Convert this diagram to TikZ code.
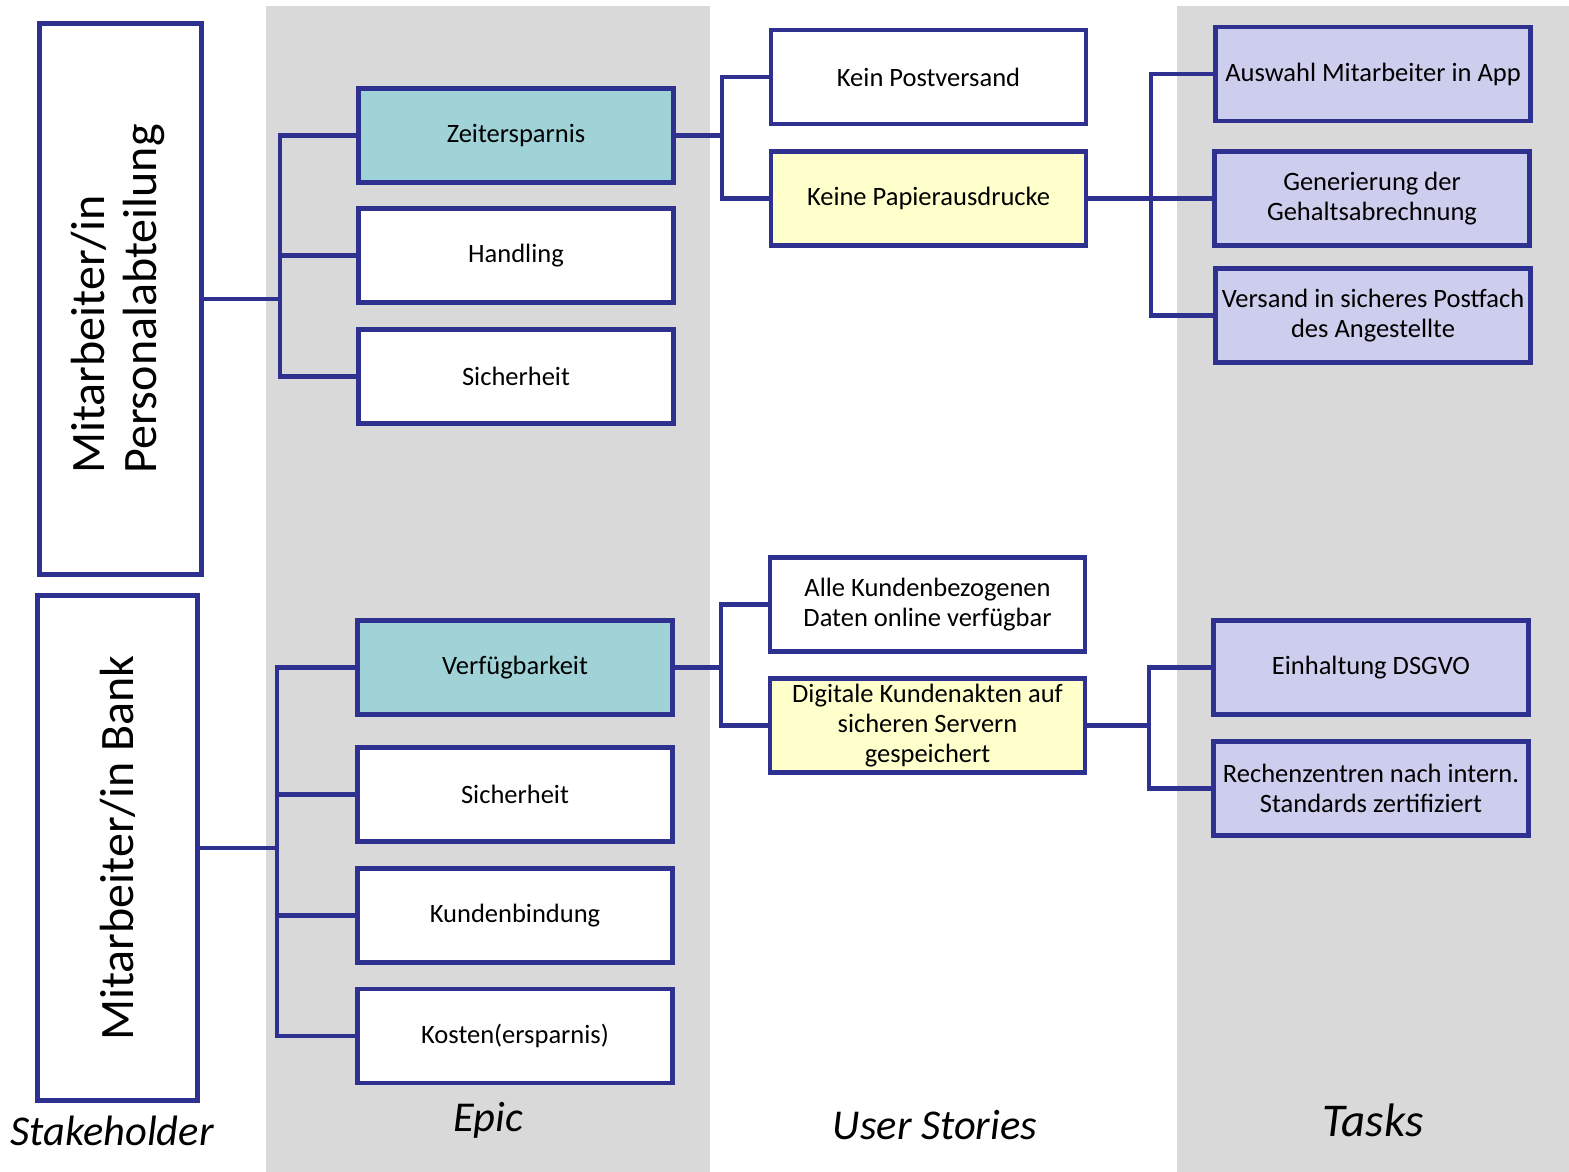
\documentclass[tikz,border=0pt]{standalone}
\usepackage{fontspec}
\setmainfont{Carlito}
\definecolor{lineblue}{HTML}{2F3190}
\definecolor{bandgray}{HTML}{D9D9D9}
\definecolor{tealfill}{HTML}{9FD3D8}
\definecolor{yellowfill}{HTML}{FFFFCC}
\definecolor{lavfill}{HTML}{CDCDEE}
\begin{document}
\begin{tikzpicture}[x=1pt,y=-1pt,
  box/.style={draw=lineblue, line width=4.4pt, fill=white, rectangle, inner sep=0pt,
    minimum width=315pt, minimum height=94pt, align=center,
    font=\fontsize{26.5}{30}\selectfont, text=black},
  epicbox/.style={box},
  storybox/.style={box},
  taskbox/.style={box, fill=lavfill},
  shbox/.style={draw=lineblue, line width=4.4pt, fill=white, rectangle, inner sep=0pt, align=center,
    font=\fontsize{48}{52}\selectfont},
  conn/.style={draw=lineblue, line width=4.4pt},
  colhead/.style={font=\fontsize{42.5}{50}\selectfont\itshape, inner sep=0pt}
]
\useasboundingbox (0,0) rectangle (1569,1172);
% bands
\fill[bandgray] (266,6) rectangle (710,1172);
\fill[bandgray] (1177,6) rectangle (1569,1172);

% stakeholders
\node[shbox, minimum width=162pt, minimum height=551pt] (sh1) at (120.5,299)
  {\rotatebox{90}{\begin{tabular}{@{}l@{}}Mitarbeiter/in\\Personalabteilung\end{tabular}}};
\node[shbox, minimum width=160pt, minimum height=505pt] (sh2) at (117.5,848)
  {\rotatebox{90}{Mitarbeiter/in Bank}};

% epics
\node[epicbox, fill=tealfill] (zeit) at (516,135.5) {Zeitersparnis};
\node[epicbox] (hand) at (516,255.5) {Handling};
\node[epicbox] (sich1) at (516,376.5) {Sicherheit};
\node[epicbox, fill=tealfill] (verf) at (515,667.5) {Verfügbarkeit};
\node[epicbox] (sich2) at (515,794.5) {Sicherheit};
\node[epicbox] (kund) at (515,915.5) {Kundenbindung};
\node[epicbox] (kost) at (515,1036) {Kosten(ersparnis)};

% user stories
\node[storybox] (post) at (928.5,77) {Kein Postversand};
\node[storybox, fill=yellowfill] (papier) at (928.5,198.5) {Keine Papierausdrucke};
\node[storybox] (alle) at (927.5,604.5) {Alle Kundenbezogenen\\Daten online verfügbar};
\node[storybox, fill=yellowfill] (digi) at (927.5,725.5) {Digitale Kundenakten auf\\sicheren Servern\\gespeichert};

% tasks
\node[taskbox] (ausw) at (1373,74) {Auswahl Mitarbeiter in App};
\node[taskbox] (gen) at (1372,198.5) {Generierung der\\Gehaltsabrechnung};
\node[taskbox] (vers) at (1373,315.5) {Versand in sicheres Postfach\\des Angestellte};
\node[taskbox] (dsgvo) at (1371,667.5) {Einhaltung DSGVO};
\node[taskbox] (rech) at (1371,788.5) {Rechenzentren nach intern.\\Standards zertifiziert};

% trunk coordinates
\coordinate (t1) at (280,0);
\coordinate (t2) at (277,0);
\coordinate (t3) at (722,0);
\coordinate (t4) at (721,0);
\coordinate (t5) at (1151,0);
\coordinate (t6) at (1149,0);

% connectors
\foreach \c in {zeit,hand,sich1}
  \draw[conn] (sh1.east) -- (sh1.east -| t1) |- (\c.west);
\foreach \c in {verf,sich2,kund,kost}
  \draw[conn] (sh2.east) -- (sh2.east -| t2) |- (\c.west);
\foreach \c in {post,papier}
  \draw[conn] (zeit.east) -- (zeit.east -| t3) |- (\c.west);
\foreach \c in {alle,digi}
  \draw[conn] (verf.east) -- (verf.east -| t4) |- (\c.west);
\foreach \c in {ausw,gen,vers}
  \draw[conn] (papier.east) -- (papier.east -| t5) |- (\c.west);
\foreach \c in {dsgvo,rech}
  \draw[conn] (digi.east) -- (digi.east -| t6) |- (\c.west);

% column headings
\node[colhead] (hsh) at (112,1131) {Stakeholder};
\node[colhead] (hep) at (488,1120) {Epic};
\node[colhead] (hus) at (935,1125) {User Stories};
\node[colhead, font=\fontsize{47}{54}\selectfont\itshape] (hta) at (1373,1120) {Tasks};
\end{tikzpicture}
\end{document}
